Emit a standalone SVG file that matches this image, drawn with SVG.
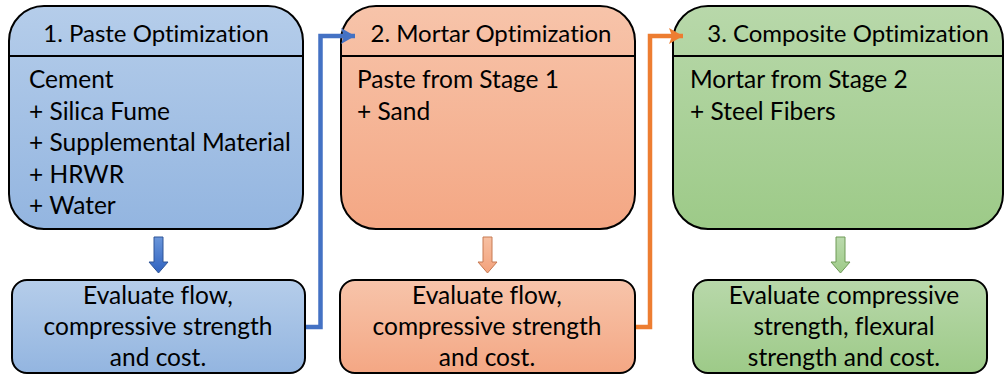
<svg xmlns="http://www.w3.org/2000/svg" width="1005" height="375" viewBox="0 0 1005 375">
<defs>
<linearGradient id="gBlue" x1="0" y1="0" x2="0" y2="1"><stop offset="0" stop-color="#B5CDEA"/><stop offset="1" stop-color="#93B5E0"/></linearGradient>
<linearGradient id="gOrange" x1="0" y1="0" x2="0" y2="1"><stop offset="0" stop-color="#F7C4AA"/><stop offset="1" stop-color="#F4A784"/></linearGradient>
<linearGradient id="gGreen" x1="0" y1="0" x2="0" y2="1"><stop offset="0" stop-color="#B8D8AA"/><stop offset="1" stop-color="#9DCA88"/></linearGradient>
<linearGradient id="aBlue" x1="0" y1="0" x2="0" y2="1"><stop offset="0" stop-color="#6A96DA"/><stop offset="1" stop-color="#2F62C0"/></linearGradient>
<linearGradient id="aOrange" x1="0" y1="0" x2="0" y2="1"><stop offset="0" stop-color="#F7C0A2"/><stop offset="1" stop-color="#F3A27C"/></linearGradient>
<linearGradient id="aGreen" x1="0" y1="0" x2="0" y2="1"><stop offset="0" stop-color="#BBDAAD"/><stop offset="1" stop-color="#9ECB88"/></linearGradient>
<marker id="mBlue" viewBox="0 0 14 16" refX="14" refY="8" markerWidth="14" markerHeight="16" markerUnits="userSpaceOnUse" orient="auto"><path d="M0,0 L14,8 L0,16 L3,8 Z" fill="#4472C4"/></marker>
<marker id="mOrange" viewBox="0 0 14 16" refX="14" refY="8" markerWidth="14" markerHeight="16" markerUnits="userSpaceOnUse" orient="auto"><path d="M0,0 L14,8 L0,16 L3,8 Z" fill="#ED7D31"/></marker>
</defs>
<style>
.box{stroke:#000;stroke-width:2}
.div{stroke:#000;stroke-width:2}
text{font-family:Lato,"Open Sans","Liberation Sans",sans-serif;font-size:24.5px;fill:#000;font-variant-ligatures:none}
.t{font-size:24px}
.c{text-anchor:middle}
.conn{fill:none;stroke-width:4.5}
</style>
<g id="paste">
<rect class="box" x="9" y="6" width="294" height="223" rx="35" fill="url(#gBlue)"/>
<line class="div" x1="9" y1="56" x2="303" y2="56"/>
<text class="c t" x="156" y="42">1. Paste Optimization</text>
<text x="29" y="88">Cement</text>
<text x="29" y="120">+ Silica Fume</text>
<text x="29" y="151">+ Supplemental Material</text>
<text x="29" y="183">+ HRWR</text>
<text x="29" y="214">+ Water</text>
</g>
<g id="mortar">
<rect class="box" x="341" y="6" width="294" height="223" rx="35" fill="url(#gOrange)"/>
<line class="div" x1="341" y1="56" x2="635" y2="56"/>
<text class="c t" x="491" y="42">2. Mortar Optimization</text>
<text x="357" y="88">Paste from Stage 1</text>
<text x="357" y="120">+ Sand</text>
</g>
<g id="composite">
<rect class="box" x="673" y="6" width="330" height="223" rx="35" fill="url(#gGreen)"/>
<line class="div" x1="673" y1="56" x2="1003" y2="56"/>
<text class="c t" x="848" y="42">3. Composite Optimization</text>
<text x="690" y="88">Mortar from Stage 2</text>
<text x="690" y="120">+ Steel Fibers</text>
</g>
<g id="eval1">
<rect class="box" x="12" y="280" width="293" height="93" rx="15" fill="url(#gBlue)"/>
<text class="c" x="158" y="304">Evaluate flow,</text>
<text class="c" x="158" y="335">compressive strength</text>
<text class="c" x="158" y="366">and cost.</text>
</g>
<g id="eval2">
<rect class="box" x="340" y="280" width="295" height="93" rx="15" fill="url(#gOrange)"/>
<text class="c" x="487" y="304">Evaluate flow,</text>
<text class="c" x="487" y="335">compressive strength</text>
<text class="c" x="487" y="366">and cost.</text>
</g>
<g id="eval3">
<rect class="box" x="693" y="280" width="294" height="93" rx="15" fill="url(#gGreen)"/>
<text class="c" x="844" y="304">Evaluate compressive</text>
<text class="c" x="844" y="335">strength, flexural</text>
<text class="c" x="844" y="366">strength and cost.</text>
</g>
<g id="connectors">
<path class="conn" d="M306,327 H320.5 V36 H355" stroke="#4472C4" marker-end="url(#mBlue)"/>
<path class="conn" d="M636,327 H650 V36 H683" stroke="#ED7D31" marker-end="url(#mOrange)"/>
<path d="M154,237 H163 V262 H168 L158.5,273 L149,262 H154 Z" fill="url(#aBlue)" stroke="#2F5597" stroke-width="1"/>
<path d="M483,237 H492 V262 H497 L487.5,273 L478,262 H483 Z" fill="url(#aOrange)" stroke="#C77A52" stroke-width="1"/>
<path d="M836,237 H845 V262 H850 L840.5,273 L831,262 H836 Z" fill="url(#aGreen)" stroke="#6F9A57" stroke-width="1"/>
</g>
</svg>
